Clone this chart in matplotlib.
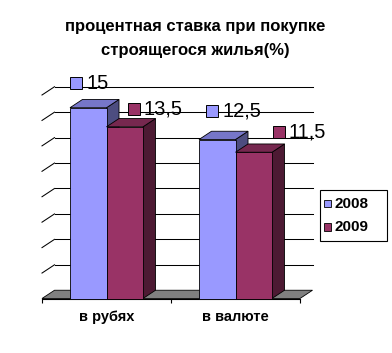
import matplotlib
matplotlib.use('Agg')
import matplotlib.pyplot as plt
from matplotlib.patches import Polygon, Rectangle
from matplotlib.transforms import offset_copy

plt.rcParams['font.family'] = ['Liberation Sans', 'DejaVu Sans']

# ---- data ----
title_lines = ["процентная ставка при покупке", "строящегося жилья(%)"]
categories = ["в рубях", "в валюте"]
series_names = ["2008", "2009"]
values_2008 = [15, 12.5]
values_2009 = [13.5, 11.5]
labels_2008 = ["15", "12,5"]
labels_2009 = ["13,5", "11,5"]
y_max = 16
y_step = 2

# ---- style ----
front_colors = ['#9999FF', '#993366']
top_colors = ['#7676C8', '#76284F']
side_colors = ['#4D4D80', '#4D1A33']
W = 0.283          # bar width in category units
DX, DY = 0.097, 0.65  # depth offset in data units
# label offsets (pixels) relative to front-top-left corner of each bar: (marker dx, dy)
label_offsets = [[(6.5, 24.7), (13.5, 28.7)], [(27.2, 17.8), (43.5, 19.8)]]

W_PX, H_PX = 392, 353
fig = plt.figure(figsize=(W_PX / 100, H_PX / 100), dpi=100)
ax = fig.add_axes([42 / W_PX, (H_PX - 298.5) / H_PX, 258 / W_PX, (298.5 - 95) / H_PX])
n = len(categories)
ax.set_xlim(0, n)
ax.set_ylim(0, y_max)
for s in ['top', 'right', 'left']:
    ax.spines[s].set_visible(False)
ax.spines['bottom'].set_linewidth(0.8)
ax.spines['bottom'].set_zorder(2.5)
ax.set_yticks([])
ax.set_xticks(range(n + 1))
ax.set_xticklabels([])
ax.tick_params(axis='x', which='major', length=2.6, width=0.8, direction='out')
ax.set_xticks([i + 0.5 for i in range(n)], minor=True)
ax.set_xticklabels(categories, minor=True, fontsize=10.5, fontweight='bold')
ax.tick_params(axis='x', which='minor', length=0, pad=8)
ax.patch.set_visible(False)

# back wall gridlines + left wall diagonals
for v in range(y_step, y_max + 1, y_step):
    ax.plot([DX, n + DX], [v + DY, v + DY], color='black', lw=0.75, zorder=1, clip_on=False)
    ax.plot([0, DX], [v, v + DY], color='black', lw=0.75, zorder=1, clip_on=False)

# floor
ax.add_patch(Polygon([(0, 0), (n, 0), (n + DX, DY), (DX, DY)], closed=True,
                     facecolor='#808080', edgecolor='black', lw=0.6, zorder=2, clip_on=False))

series = [values_2008, values_2009]
label_texts = [labels_2008, labels_2009]
z = 3
for i in range(n):
    for j, vals in enumerate(series):
        v = vals[i]
        x0 = i + 0.5 - W + j * W
        ax.add_patch(Polygon([(x0 + W, 0), (x0 + W + DX, DY), (x0 + W + DX, v + DY), (x0 + W, v)],
                             closed=True, facecolor=side_colors[j], edgecolor='black', lw=0.6,
                             zorder=z, clip_on=False))
        ax.add_patch(Polygon([(x0, v), (x0 + W, v), (x0 + W + DX, v + DY), (x0 + DX, v + DY)],
                             closed=True, facecolor=top_colors[j], edgecolor='black', lw=0.6,
                             zorder=z, clip_on=False))
        ax.add_patch(Rectangle((x0, 0), W, v, facecolor=front_colors[j], edgecolor='black',
                               lw=0.6, zorder=z + 0.5, clip_on=False))
        z += 1

# data labels
for j, vals in enumerate(series):
    for i in range(n):
        v = vals[i]
        x0 = i + 0.5 - W + j * W
        mdx, mdy = label_offsets[j][i]
        tr_m = offset_copy(ax.transData, fig=fig, x=mdx, y=mdy, units='dots')
        ax.plot([x0], [v], marker='s', ms=8.2, mfc=front_colors[j], mec='black', mew=0.7,
                transform=tr_m, clip_on=False, zorder=20)
        tr_t = offset_copy(ax.transData, fig=fig, x=mdx + 10.0, y=mdy, units='dots')
        ax.text(x0, v, label_texts[j][i], transform=tr_t, ha='left', va='center',
                fontsize=14.5, zorder=21)

# title
fig.text(195 / W_PX, 1 - 26.5 / H_PX, title_lines[0], ha='center', va='center',
         fontsize=12, fontweight='bold')
fig.text(195 / W_PX, 1 - 50 / H_PX, title_lines[1], ha='center', va='center',
         fontsize=12, fontweight='bold')

# legend (drawn in figure pixel coordinates)
fx = lambda px: px / W_PX
fy = lambda py: 1 - py / H_PX
fig.patches.append(Rectangle((fx(320), fy(240.5)), fx(387) - fx(320), fy(189.5) - fy(240.5),
                             transform=fig.transFigure, facecolor='white', edgecolor='black',
                             lw=0.8, zorder=5))
entry_y = [203.5, 227]
sq = 7.5
for j, name in enumerate(series_names):
    fig.patches.append(Rectangle((fx(323.5), fy(entry_y[j] + sq / 2)), sq / W_PX, sq / H_PX,
                                 transform=fig.transFigure, facecolor=front_colors[j],
                                 edgecolor='black', lw=0.6, zorder=6))
    fig.text(fx(334.5), fy(entry_y[j]), name, ha='left', va='center', fontsize=11,
             fontweight='bold', zorder=7)

fig.savefig('out.png', dpi=100)
